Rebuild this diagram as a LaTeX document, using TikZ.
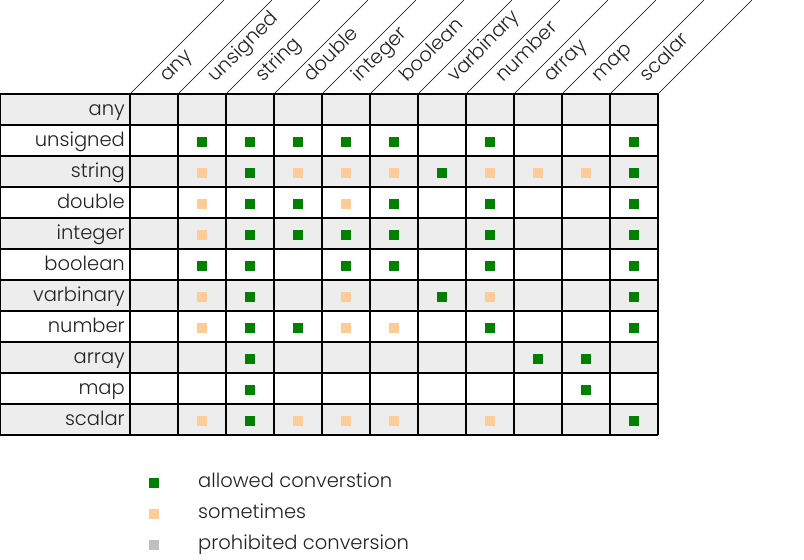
\documentclass[tikz,border=0pt]{standalone}
\usepackage{fontspec}
\setmainfont{Poppins Light}
\definecolor{rowgray}{HTML}{EDEDED}
\definecolor{okgreen}{HTML}{008000}
\definecolor{somepeach}{HTML}{FFCC99}
\definecolor{nogray}{HTML}{C0C0C0}
\definecolor{txt}{HTML}{222222}
\tikzset{
  lbl/.style={text=txt, inner sep=0pt, font=\fontsize{19.5}{22}\selectfont},
  sq/.style={minimum size=10pt, inner sep=0pt, draw=none},
  okcell/.style={sq, fill=okgreen},
  somecell/.style={sq, fill=somepeach},
  nocell/.style={sq, fill=nogray},
  gridline/.style={line width=1.2pt, black},
  slant/.style={line width=0.6pt, black},
}
\begin{document}
\begin{tikzpicture}[x=1pt,y=-1pt]
\useasboundingbox (0,0) rectangle (804,560);
% row shading
\foreach \r in {0,2,4,6,8,10}
  \fill[rowgray] (0,94+31*\r) rectangle (658,125+31*\r);
% grid
\foreach \r in {0,...,11}
  \draw[gridline] (0,94+31*\r) -- (658,94+31*\r);
\draw[gridline] (0.6,94) -- (0.6,435);
\foreach \c in {0,...,11}
  \draw[gridline] (130+48*\c,94) -- (130+48*\c,435);
% slanted header lines
\foreach \c in {0,...,11}
  \draw[slant] (130+48*\c,94) -- (224+48*\c,0);
% labels
\foreach \n [count=\i from 0] in {any,unsigned,string,double,integer,boolean,varbinary,number,array,map,scalar}{
  \node[lbl, anchor=base east] (row-\i) at (125,115.5+31*\i) {\n};
  \node[lbl, anchor=base west, rotate=45] (col-\i) at (167.5+48*\i,83) {\n};
}
% allowed
\foreach \r/\c in {1/1,1/2,1/3,1/4,1/5,1/7,1/10,
  2/2,2/6,2/10,
  3/2,3/3,3/5,3/7,3/10,
  4/2,4/3,4/4,4/5,4/7,4/10,
  5/1,5/2,5/4,5/5,5/7,5/10,
  6/2,6/6,6/10,
  7/2,7/3,7/7,7/10,
  8/2,8/8,8/9,
  9/2,9/9,
  10/2,10/10}
  \node[okcell] (ok-\r-\c) at (154+48*\c,110.5+31*\r) {};
% sometimes
\foreach \r/\c in {2/1,2/3,2/4,2/5,2/7,2/8,2/9,
  3/1,3/4,
  4/1,
  6/1,6/4,6/7,
  7/1,7/4,7/5,
  10/1,10/3,10/4,10/5,10/7}
  \node[somecell] (some-\r-\c) at (154+48*\c,110.5+31*\r) {};
% legend
\node[okcell] (leg-ok) at (154,482.5) {};
\node[somecell] (leg-some) at (154,513.5) {};
\node[nocell] (leg-no) at (154,544.5) {};
\node[lbl, anchor=base west] (leg-ok-t) at (198,487.5) {allowed converstion};
\node[lbl, anchor=base west] (leg-some-t) at (198,518.5) {sometimes};
\node[lbl, anchor=base west] (leg-no-t) at (198,549.5) {prohibited conversion};
\end{tikzpicture}
\end{document}
